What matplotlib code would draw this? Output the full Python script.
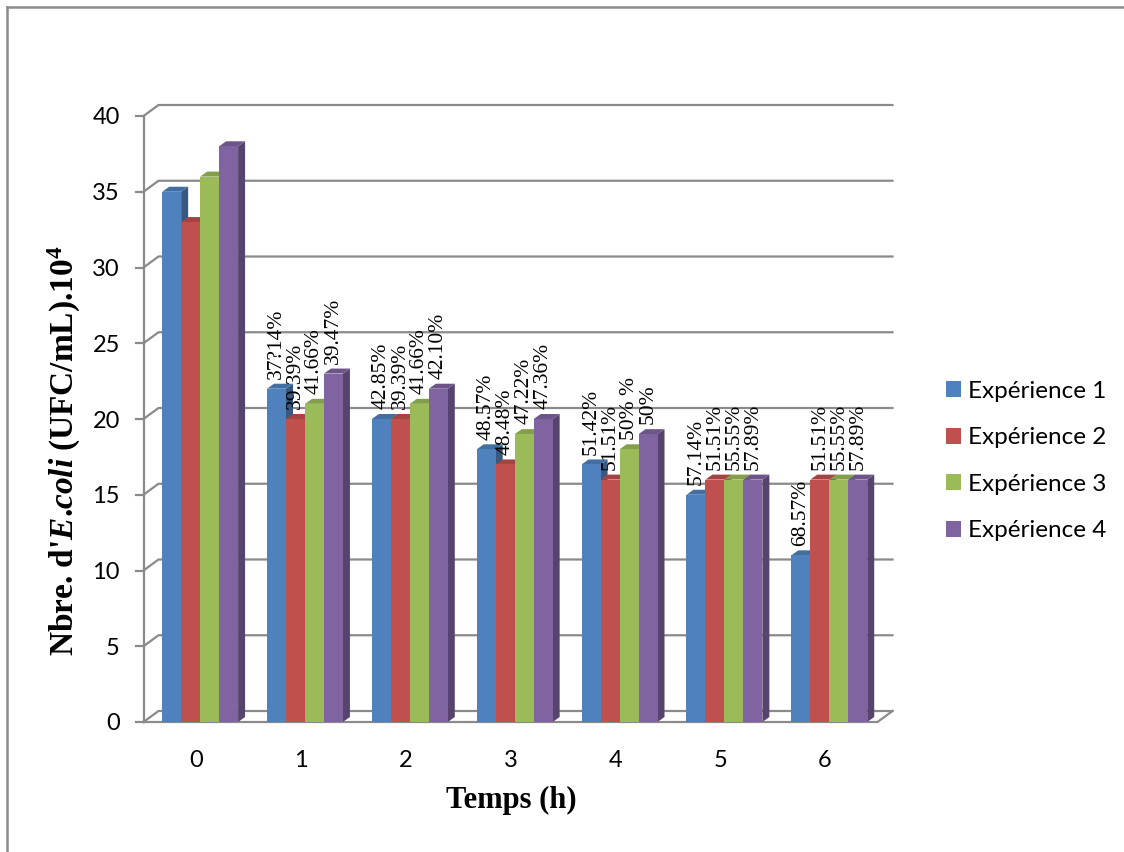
import matplotlib
matplotlib.use("Agg")
import matplotlib.pyplot as plt
from matplotlib.lines import Line2D
from matplotlib.patches import Polygon
import numpy as np

# E. coli counts (x10^4 UFC/mL) per sampling time, one list per experiment
hours = ["0", "1", "2", "3", "4", "5", "6"]
series = ["Expérience 1", "Expérience 2", "Expérience 3", "Expérience 4"]
exp1 = [35, 22, 20, 18, 17, 15, 11]
exp2 = [33, 20, 20, 17, 16, 16, 16]
exp3 = [36, 21, 21, 19, 18, 16, 16]
exp4 = [38, 23, 22, 20, 19, 16, 16]

# reduction percentages printed above the bars (none at t = 0)
pct1 = ["", "37?14%", "42.85%", "48.57%", "51.42%", "57.14%", "68.57%"]
pct2 = ["", "39.39%", "39.39%", "48.48%", "51.51%", "51.51%", "51.51%"]
pct3 = ["", "41.66%", "41.66%", "47.22%", "50% %", "55.55%", "55.55%"]
pct4 = ["", "39.47%", "42.10%", "47.36%", "50%", "57.89%", "57.89%"]

colors = ["#4F81BD", "#C0504D", "#9BBB59", "#8064A2"]
GRID = "#8a8a8a"

plt.rcParams["mathtext.fontset"] = "custom"
plt.rcParams["mathtext.rm"] = "Liberation Serif:bold"
plt.rcParams["mathtext.it"] = "Liberation Serif:italic:bold"
plt.rcParams["mathtext.bf"] = "Liberation Serif:bold"

W, H = 1124, 852
fig = plt.figure(figsize=(W / 100, H / 100), dpi=100)
ax = fig.add_axes([143.5 / W, 130 / H, 734 / W, 606 / H])
ax.set_xlim(-0.5, 6.5)
ax.set_ylim(0, 40)
ax.set_facecolor("none")
for s in ax.spines.values():
    s.set_visible(False)

# pixel -> data unit helpers for the fake 3D depth
xpx = 7 / 734
ypx = 40 / 606
bx, by = 15 * xpx, 11 * ypx      # back wall offset
dx, dy = 7 * xpx, 5 * ypx        # bar depth


def shade(c, f):
    r, g, b = matplotlib.colors.to_rgb(c)
    return (r * f, g * f, b * f)


# walls, floor and gridlines
for v in range(0, 45, 5):
    ax.plot([-0.5, -0.5 + bx, 6.5 + bx], [v, v + by, v + by], color=GRID,
            lw=1.6, clip_on=False, zorder=1)
    ax.plot([-0.5 - 8 * xpx, -0.5], [v, v], color=GRID, lw=1.6,
            clip_on=False, zorder=1)
ax.plot([-0.5, -0.5], [0, 40], color=GRID, lw=1.6, clip_on=False, zorder=1)
ax.plot([-0.5, 6.5, 6.5 + bx], [0, 0, by], color=GRID, lw=1.6,
        clip_on=False, zorder=1)

width = 0.181
x = np.arange(len(hours))
for j, (vals, pcts) in enumerate(zip([exp1, exp2, exp3, exp4],
                                     [pct1, pct2, pct3, pct4])):
    col = colors[j]
    xpos = x + 0.04 + (j - 1.5) * width
    bars = ax.bar(xpos, vals, width, color=col, linewidth=0,
                  zorder=2 + j + 0.5, label=series[j])
    for b in bars:
        x0 = b.get_x()
        x1 = x0 + width
        h = b.get_height()
        ax.add_patch(Polygon([(x1, 0), (x1 + dx, dy), (x1 + dx, h + dy), (x1, h)],
                             closed=True, fc=shade(col, 0.68), lw=0,
                             zorder=2 + j, clip_on=False))
        ax.add_patch(Polygon([(x0, h), (x1, h), (x1 + dx, h + dy), (x0 + dx, h + dy)],
                             closed=True, fc=shade(col, 0.85), lw=0,
                             zorder=2 + j, clip_on=False))
    for xi, v, txt in zip(xpos, vals, pcts):
        if txt:
            ax.annotate(txt, (xi, v), xytext=(0, 7), textcoords="offset points",
                        rotation=90, ha="center", va="bottom", fontsize=15.5,
                        family="Liberation Serif", zorder=20,
                        annotation_clip=False)

ax.set_xticks(x, hours)
ax.set_yticks(range(0, 45, 5))
ax.tick_params(axis="x", length=0, pad=20, labelsize=17)
ax.tick_params(axis="y", length=0, pad=17, labelsize=17)
for lbl in ax.get_xticklabels() + ax.get_yticklabels():
    lbl.set_family("Lato")

fig.text(64 / W, 1 - 451 / H, "Nbre. d'$E$.$coli$ (UFC/mL).10$^{4}$",
         rotation=90, ha="center", va="center", fontsize=24,
         family="Liberation Serif", fontweight="bold")
fig.text(511 / W, 1 - 800 / H, "Temps (h)", ha="center", va="center",
         fontsize=22, family="Liberation Serif", fontweight="bold")

fig.legend(loc="center left", bbox_to_anchor=(946 / W, 1 - 461 / H),
           frameon=False, prop={"family": "Lato", "size": 17.5},
           handlelength=0.62, handleheight=0.62, handletextpad=0.3,
           labelspacing=1.05, borderpad=0, borderaxespad=0)

# chart area border (top and left edges)
fig.add_artist(Line2D([7 / W, 1], [1 - 7 / H, 1 - 7 / H], color="#8c8c8c", lw=1.8))
fig.add_artist(Line2D([7 / W, 7 / W], [0, 1 - 7 / H], color="#8c8c8c", lw=1.8))

fig.savefig("out.png", dpi=100, facecolor="white")
